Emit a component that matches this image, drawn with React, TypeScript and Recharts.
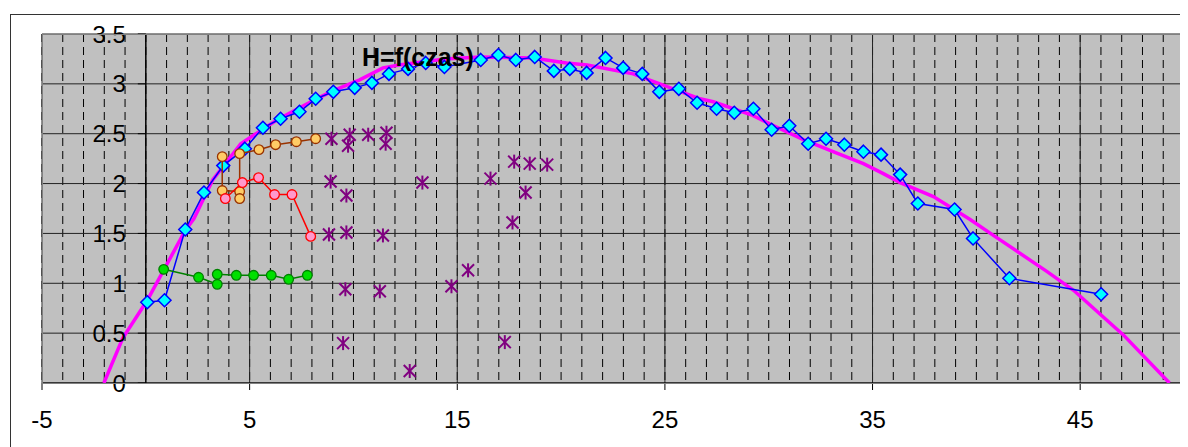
import React from "react";
import {
  ScatterChart,
  Scatter,
  XAxis,
  YAxis,
  CartesianGrid,
  ReferenceLine,
} from "recharts";

// axis setup
const X_MIN = -5;
const X_MAX = 50;
const xTicks = [-5, 5, 15, 25, 35, 45];
const xMinorTicks = Array.from({ length: X_MAX - X_MIN + 1 }, (_, i) => X_MIN + i);
const yTicks = [0, 0.5, 1, 1.5, 2, 2.5, 3, 3.5];

// blue diamonds
const blueX = [0.07, 0.9, 1.9, 2.8, 3.73, 4.77, 5.64, 6.49, 7.4, 8.18, 9.03, 10.06, 10.89, 11.71, 12.63, 13.48, 14.38, 16.13, 16.98, 17.82, 18.73, 19.65, 20.42, 21.23, 22.14, 22.99, 23.91, 24.73, 25.67, 26.55, 27.49, 28.34, 29.26, 30.14, 30.99, 31.9, 32.76, 33.64, 34.56, 35.41, 36.33, 37.18, 38.95, 39.84, 41.59, 46.01];
const blueY = [0.81, 0.83, 1.54, 1.91, 2.18, 2.35, 2.56, 2.65, 2.72, 2.85, 2.92, 2.96, 3.01, 3.1, 3.15, 3.21, 3.17, 3.24, 3.29, 3.24, 3.27, 3.13, 3.15, 3.11, 3.26, 3.16, 3.1, 2.92, 2.95, 2.81, 2.75, 2.71, 2.75, 2.54, 2.58, 2.4, 2.45, 2.39, 2.32, 2.29, 2.09, 1.8, 1.74, 1.45, 1.05, 0.89];

// magenta curve
const curveX = [-2.02, -1.11, 0.07, 1.9, 2.32, 3.23, 4.57, 6.33, 8.13, 9.0, 10.3, 11.42, 12.2, 14.4, 16.08, 18.64, 20.26, 21.26, 23.47, 26.69, 27.33, 29.16, 30.14, 31.67, 33.1, 34.56, 35.52, 36.33, 37.93, 39.7, 40.82, 43.39, 44.68, 47.09, 49.3];
const curveY = [0, 0.45, 0.83, 1.53, 1.65, 2.04, 2.4, 2.64, 2.84, 2.93, 3.04, 3.16, 3.19, 3.25, 3.27, 3.26, 3.21, 3.19, 3.1, 2.85, 2.82, 2.69, 2.59, 2.44, 2.32, 2.2, 2.1, 2.01, 1.87, 1.64, 1.48, 1.12, 0.93, 0.48, 0];

// orange circles
const orangeX = [3.68, 3.68, 4.52, 4.52, 4.52, 5.45, 6.25, 7.25, 8.18];
const orangeY = [2.27, 1.93, 1.92, 1.85, 2.3, 2.34, 2.39, 2.42, 2.45];

// red circles
const redX = [3.83, 4.65, 5.43, 6.2, 7.04, 7.94];
const redY = [1.85, 2.01, 2.06, 1.89, 1.89, 1.47];

// green circles
const greenX = [0.86, 2.54, 3.44, 3.44, 4.36, 5.19, 6.04, 6.88, 7.78];
const greenY = [1.14, 1.06, 0.99, 1.09, 1.08, 1.08, 1.08, 1.04, 1.08];

// purple asterisks
const starX = [8.94, 9.82, 9.74, 10.71, 11.59, 11.55, 8.9, 9.66, 13.32, 16.6, 17.74, 18.49, 19.33, 18.29, 8.82, 9.66, 11.42, 17.66, 15.52, 14.72, 9.61, 11.27, 9.5, 17.29, 12.71];
const starY = [2.45, 2.49, 2.38, 2.49, 2.51, 2.4, 2.02, 1.88, 2.01, 2.05, 2.22, 2.2, 2.19, 1.91, 1.49, 1.51, 1.48, 1.61, 1.13, 0.97, 0.94, 0.92, 0.4, 0.41, 0.12];

const zip = (xs: number[], ys: number[]) => xs.map((x, i) => ({ x, y: ys[i] }));

const W = 1180;
const H = 439;
const Y_W = 1;
const margin = { top: 26, right: 4, bottom: 24, left: 33 };
const plotLeft = margin.left + Y_W;
const plotW = W - plotLeft - margin.right;
const plotH = H - margin.top - margin.bottom - 40;
const zeroX = plotLeft + ((0 - X_MIN) / (X_MAX - X_MIN)) * plotW;

const FONT = "Arial, 'Liberation Sans', sans-serif";

// dashed minor gridlines, one per unit on the x scale
const minorLines = (props: any) => {
  const s = props?.xAxis?.scale;
  const left = props?.offset?.left ?? plotLeft;
  const width = props?.offset?.width ?? plotW;
  return xMinorTicks.map((v) =>
    typeof s === "function" ? s(v) : left + ((v - X_MIN) / (X_MAX - X_MIN)) * width
  );
};

const Diamond = ({ cx, cy }: any) => (
  <path
    d={`M${cx},${cy - 6.5}L${cx + 6.5},${cy}L${cx},${cy + 6.5}L${cx - 6.5},${cy}Z`}
    fill="#00FFFF"
    stroke="#0000FF"
    strokeWidth={1.5}
  />
);

const dot = (fill: string, stroke: string) => ({ cx, cy }: any) => (
  <circle cx={cx} cy={cy} r={4.8} fill={fill} stroke={stroke} strokeWidth={1.3} />
);

const Star = ({ cx, cy }: any) => (
  <g stroke="#800080" strokeWidth={2}>
    <line x1={cx} y1={cy - 7} x2={cx} y2={cy + 7} />
    <line x1={cx - 6} y1={cy - 6} x2={cx + 6} y2={cy + 6} />
    <line x1={cx - 6} y1={cy + 6} x2={cx + 6} y2={cy - 6} />
  </g>
);

const YTick = ({ y, payload }: any) => (
  <g>
    <line x1={zeroX - 8} x2={zeroX} y1={y} y2={y} stroke="#000" />
    <text x={zeroX - 20} y={y} dy="0.36em" textAnchor="end" fontSize={24} fontFamily={FONT} fill="#000">
      {payload.value}
    </text>
  </g>
);

export default function App() {
  return (
    <div style={{ position: "relative", width: W, height: H, background: "#fff" }}>
      <div
        style={{
          position: "absolute",
          left: 2,
          top: 6,
          right: -20,
          bottom: -20,
          borderTop: "1px solid #333",
          borderLeft: "1px solid #333",
        }}
      />
      <ScatterChart width={W} height={H} margin={margin}>
        <XAxis
          xAxisId="main"
          type="number"
          dataKey="x"
          domain={[X_MIN, X_MAX]}
          ticks={xTicks}
          allowDataOverflow
          height={40}
          axisLine={{ stroke: "#000" }}
          tickLine={{ stroke: "#000" }}
          tickSize={7}
          tickMargin={21}
          tick={{ fontSize: 24, fontFamily: FONT, fill: "#000" }}
        />
        <YAxis
          type="number"
          dataKey="y"
          domain={[0, 3.5]}
          ticks={yTicks}
          width={Y_W}
          axisLine={false}
          tickLine={false}
          tick={<YTick />}
          allowDataOverflow
        />
        <CartesianGrid
          xAxisId="main"
          horizontal={false}
          fill="#C0C0C0"
          stroke="#000"
          strokeDasharray="8 5"
          verticalCoordinatesGenerator={minorLines}
        />
        <CartesianGrid xAxisId="main" stroke="#222" />
        <ReferenceLine xAxisId="main" x={0} stroke="#000" strokeWidth={1.5} />
        <Scatter
          xAxisId="main"
          data={zip(curveX, curveY)}
          line={{ stroke: "#FF00FF", strokeWidth: 3.5 }}
          shape={() => <g />}
          isAnimationActive={false}
        />
        <Scatter
          xAxisId="main"
          data={zip(blueX, blueY)}
          line={{ stroke: "#0000FF", strokeWidth: 1.5 }}
          shape={Diamond}
          isAnimationActive={false}
        />
        <Scatter
          xAxisId="main"
          data={zip(greenX, greenY)}
          line={{ stroke: "#008000", strokeWidth: 1.5 }}
          shape={dot("#00E000", "#008000")}
          isAnimationActive={false}
        />
        <Scatter
          xAxisId="main"
          data={zip(orangeX, orangeY)}
          line={{ stroke: "#993300", strokeWidth: 1.5 }}
          shape={dot("#FFCC66", "#993300")}
          isAnimationActive={false}
        />
        <Scatter
          xAxisId="main"
          data={zip(redX, redY)}
          line={{ stroke: "#FF0000", strokeWidth: 1.5 }}
          shape={dot("#FF99CC", "#FF0000")}
          isAnimationActive={false}
        />
        <Scatter xAxisId="main" data={zip(starX, starY)} shape={Star} isAnimationActive={false} />
      </ScatterChart>
      <div
        style={{
          position: "absolute",
          left: plotLeft,
          top: margin.top,
          width: plotW - 1,
          height: plotH - 1,
          border: "1px solid #808080",
          pointerEvents: "none",
        }}
      />
      <div
        style={{
          position: "absolute",
          left: 354,
          top: 37,
          fontFamily: FONT,
          fontWeight: "bold",
          fontSize: 25,
          lineHeight: 1,
          color: "#000",
        }}
      >
        H=f(czas)
      </div>
    </div>
  );
}
